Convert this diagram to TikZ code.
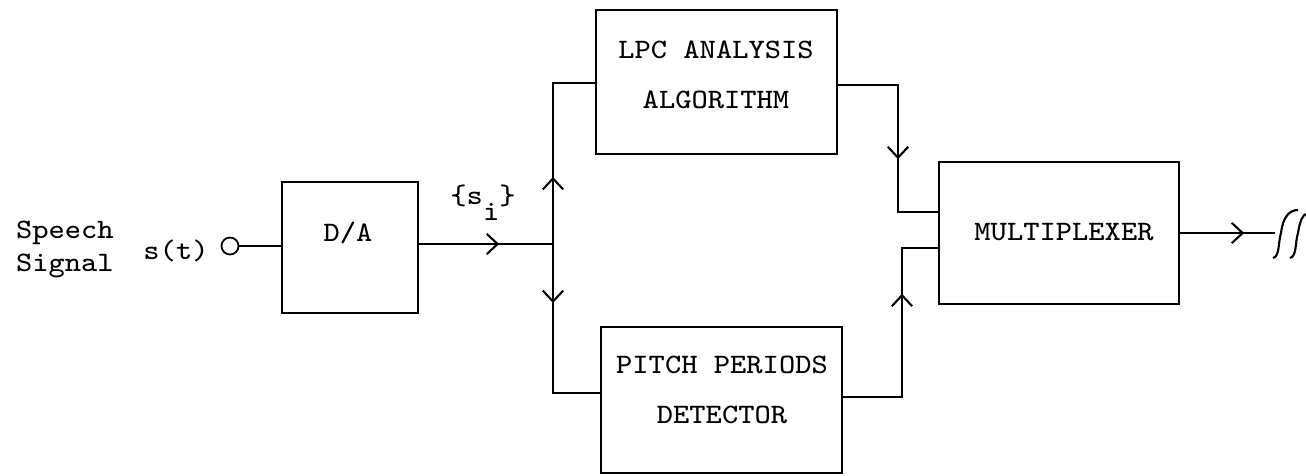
\documentclass[tikz,border=0pt]{standalone}
\usepackage{fontspec}
\setmonofont[FakeStretch=1.09]{Latin Modern Mono}
\usetikzlibrary{arrows.meta,decorations.markings}
\begin{document}
\begin{tikzpicture}[x=0.01cm,y=-0.01cm,
  line width=0.6pt,
  every node/.style={font=\ttfamily\fontsize{8}{9.4}\selectfont},
  blk/.style={draw,rectangle,inner sep=0pt},
  txt/.style={inner sep=0pt,align=center},
  mid/.style={postaction={decorate},decoration={markings,
    mark=at position #1 with {\arrow{Straight Barb[length=3.1pt,width=5.8pt]}}}}]
\useasboundingbox (0,0) rectangle (1306,475);

% blocks
\node[blk,minimum width=1.36cm,minimum height=1.31cm] (da)    at (350,247.5) {};
\node[blk,minimum width=2.41cm,minimum height=1.44cm] (lpc)   at (716.5,82) {};
\node[blk,minimum width=2.41cm,minimum height=1.46cm] (pitch) at (721.5,400) {};
\node[blk,minimum width=2.40cm,minimum height=1.42cm] (mux)   at (1059,233) {};

% block captions
\node[txt] (datxt)  at (348,233)  {D/A};
\node[txt,font=\ttfamily\fontsize{8}{14.2}\selectfont] (lpctxt) at (716,75) {LPC ANALYSIS\\ALGORITHM};
\node[txt,font=\ttfamily\fontsize{8}{14.2}\selectfont] (pitchtxt) at (722,390) {PITCH PERIODS\\DETECTOR};
\node[txt] (muxtxt) at (1064,232) {MULTIPLEXER};

% input terminal and labels
\node[draw,circle,minimum size=0.17cm,inner sep=0pt,line width=0.5pt] (src) at (230,246) {};
\node[txt,align=left,anchor=west] (speech) at (15,249) {Speech\\Signal};
\node[txt] (st) at (176,251) {s(t)};
\node[txt] (si) at (483,203) {\{s\raisebox{-4.5pt}{i}\}};

% junction and corner points
\coordinate (jn) at (553,244);
\coordinate (ju) at (553,83);
\coordinate (jd) at (553,393);
\coordinate (lo) at (898,85);
\coordinate (li) at (898,212);
\coordinate (po) at (902,397);
\coordinate (pi) at (902,248);
\coordinate (brk) at (1275,233);

% connectors
\draw (src) -- (da.west |- src);
\draw[mid=0.80cm] (da.east |- jn) -- (jn);
\draw[mid=0.67cm] (jn) -- (ju) -- (lpc.west |- ju);
\draw[mid=0.59cm] (jn) -- (jd) -- (pitch.west |- jd);
\draw[mid=1.34cm] (lpc.east |- lo) -- (lo) -- (li) -- (mux.west |- li);
\draw[mid=1.62cm] (pitch.east |- po) -- (po) -- (pi) -- (mux.west |- pi);
\draw[mid=0.64cm] (mux.east |- brk) -- (brk);

% line break symbol
\draw (1273,258) .. controls (1280,256) and (1278,242) .. (1281,233)
      .. controls (1283,216) and (1290,210) .. (1298,210);
\draw (1290,258) .. controls (1297,256) and (1295,242) .. (1298,233)
      .. controls (1300,220) and (1303,215) .. (1306,214);
\end{tikzpicture}
\end{document}
